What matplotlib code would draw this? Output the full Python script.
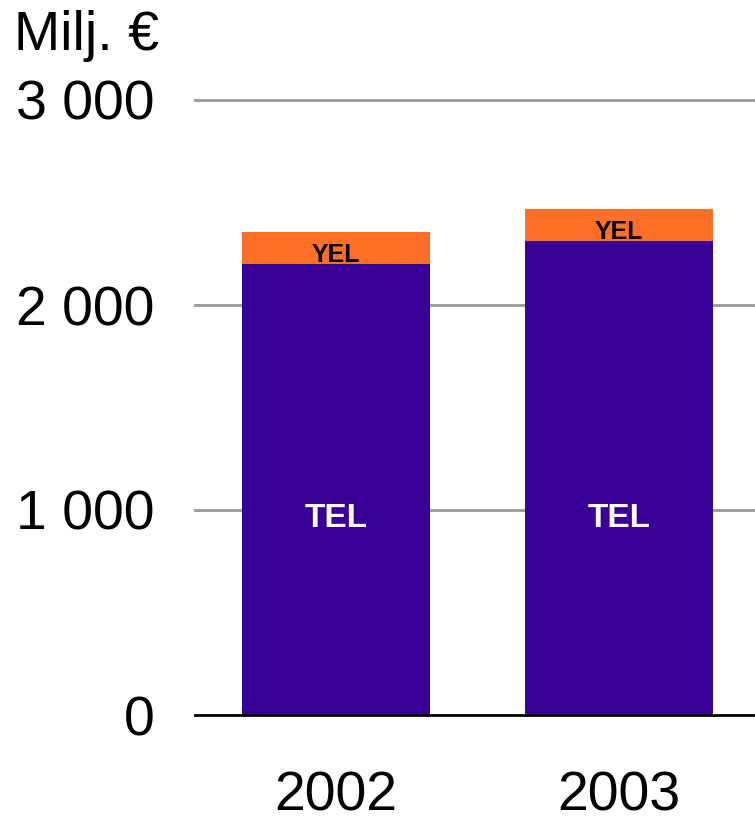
import matplotlib
matplotlib.use("Agg")
import matplotlib.pyplot as plt

years = ["2002", "2003"]
tel = [2200, 2312]
yel = [156, 156]
yticks = [0, 1000, 2000, 3000]
ytick_labels = ["0", "1 000", "2 000", "3 000"]

plt.rcParams['font.family'] = ['Liberation Sans', 'DejaVu Sans']

fig = plt.figure(figsize=(7.55, 8.17), dpi=100)
ax = fig.add_axes([195/755, 102/817, 560/755, 615/817])

x = list(range(len(years)))
purple = "#380096"
orange = "#FF6F28"
ax.bar(x, tel, width=0.664, color=purple, zorder=3)
ax.bar(x, yel, bottom=tel, width=0.664, color=orange, zorder=3)

for xi, t, y in zip(x, tel, yel):
    ax.text(xi, 960, "TEL", color="white", fontsize=24, fontweight="bold",
            ha="center", va="center", zorder=4)
    ax.annotate("YEL", (xi, t), xytext=(0, 1.5), textcoords="offset points",
                color="black", fontsize=18, fontweight="bold",
                ha="center", va="baseline", zorder=4)

ax.set_xlim(-0.498, 1.48)
ax.set_ylim(0, 3000)
ax.set_yticks(yticks)
ax.set_yticklabels(ytick_labels, fontsize=40)
ax.set_xticks(x)
ax.set_xticklabels(years, fontsize=40)
ax.tick_params(axis='y', length=0, pad=29)
ax.tick_params(axis='x', length=0, pad=40)

for v in yticks[1:]:
    ax.axhline(v, color="#999999", linewidth=2, zorder=1, clip_on=False)
ax.axhline(0, color="black", linewidth=2, zorder=5, clip_on=False)

for s in ax.spines.values():
    s.set_visible(False)

fig.text(14/755, 1 - 50/817, "Milj. €", fontsize=40, ha="left", va="baseline")

fig.savefig("out.png", dpi=100)
